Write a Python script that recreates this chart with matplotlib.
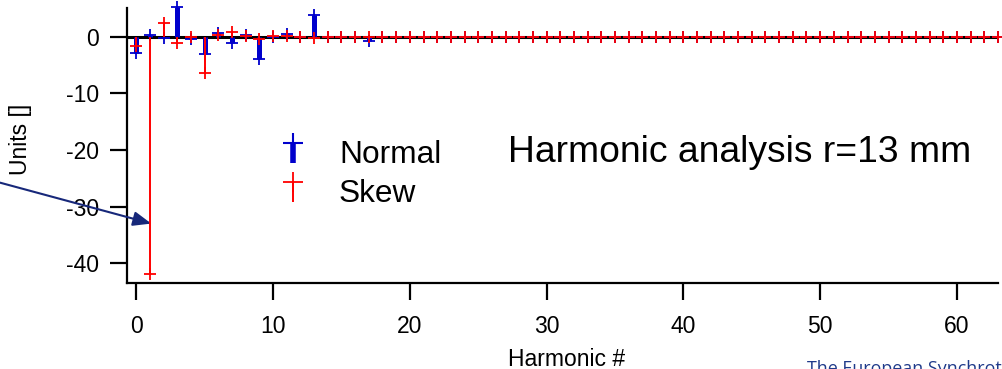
import matplotlib

matplotlib.use('Agg')
import matplotlib.pyplot as plt
import numpy as np
from matplotlib.legend_handler import HandlerBase
from matplotlib.lines import Line2D

plt.rcParams['font.family'] = ['Liberation Sans', 'DejaVu Sans']
plt.rcParams['axes.unicode_minus'] = False

# harmonic multipole content at r = 13 mm, in units
harmonics = np.arange(64)
normal = [
    -2.9, 0.35, -0.25, 5.35, -0.4, -3.0, 0.6, -1.0, 0.4, -3.9,
    0.0, 0.5, 0.0, 3.9, 0.0, 0.0, 0.0, -0.7, 0.0, 0.0,
    0.0, 0.0, 0.0, 0.0, 0.0, 0.0, 0.0, 0.0, 0.0, 0.0,
    0.0, 0.0, 0.0, 0.0, 0.0, 0.0, 0.0, 0.0, 0.0, 0.0,
    0.0, 0.0, 0.0, 0.0, 0.0, 0.0, 0.0, 0.0, 0.0, 0.0,
    0.0, 0.0, 0.0, 0.0, 0.0, 0.0, 0.0, 0.0, 0.0, 0.0,
    0.0, 0.0, 0.0, 0.0,
]
skew = [
    -1.7, -41.9, 2.5, -1.0, -0.1, -6.3, 0.3, 0.8, 0.2, -0.4,
    0.2, 0.2, 0.0, -0.25, 0.0, -0.1, 0.0, 0.0, 0.0, 0.0,
    0.0, 0.0, 0.0, 0.0, 0.0, 0.0, 0.0, 0.0, 0.0, 0.0,
    0.0, 0.0, 0.0, 0.0, 0.0, 0.0, 0.0, 0.0, 0.0, 0.0,
    0.0, 0.0, 0.0, 0.0, 0.0, 0.0, 0.0, 0.0, 0.0, 0.0,
    0.0, 0.0, 0.0, 0.0, 0.0, 0.0, 0.0, 0.0, 0.0, 0.0,
    0.0, 0.0, 0.0, 0.0,
]
xticks = [0, 10, 20, 30, 40, 50, 60]
yticks = [0, -10, -20, -30, -40]

BLUE = '#0000cc'
RED = '#ff0000'
NAVY = '#17287a'


class StemHandler(HandlerBase):
    # legend glyph: bar hanging below a '+' marker
    def create_artists(self, legend, orig_handle, xdescent, ydescent,
                       width, height, fontsize, trans):
        cx = width / 2 - xdescent
        top = 0.9 * height - ydescent
        col = orig_handle.get_color()
        bar = Line2D([cx, cx], [-ydescent, top], color=col,
                     lw=orig_handle.get_linewidth(), solid_capstyle='butt',
                     transform=trans)
        tip = Line2D([cx], [top], marker='+', markersize=fontsize * 0.63,
                     mew=orig_handle.get_markeredgewidth(), color=col,
                     linestyle='none', transform=trans)
        return [bar, tip]


fig = plt.figure(figsize=(10.02, 3.69), dpi=100)
ax = fig.add_axes([0.1267, 0.2331, 0.8693, 0.7452])

ax.axhline(0, color='black', lw=2.2, zorder=1)
ax.vlines(harmonics, 0, normal, color=BLUE, lw=3.6, zorder=2, clip_on=False)
ax.plot(harmonics, normal, '+', color=BLUE, ms=8, mew=1.3, zorder=3, clip_on=False)
ax.vlines(harmonics, 0, skew, color=RED, lw=1.4, zorder=4, clip_on=False)
ax.plot(harmonics, skew, '+', color=RED, ms=8, mew=1.3, zorder=5, clip_on=False)

ax.set_xlim(-0.68, 63.0)
ax.set_ylim(-43.5, 5.1)
ax.set_xticks(xticks)
ax.set_yticks(yticks)
for side in ('top', 'right'):
    ax.spines[side].set_visible(False)
for side in ('left', 'bottom'):
    ax.spines[side].set_linewidth(1.6)
ax.tick_params(axis='both', length=12.2, width=1.6, labelsize=16.5)
ax.tick_params(axis='y', pad=8)
ax.tick_params(axis='x', pad=11)

ax.set_xlabel('Harmonic #', fontsize=16.5, va='top')
ax.xaxis.set_label_coords(0.505, -0.236)
ax.set_ylabel('Units []', fontsize=16.5)
ax.yaxis.set_label_coords(-0.109, 0.524)

handles = [Line2D([], [], color=BLUE, lw=4, mew=1.5),
           Line2D([], [], color=RED, lw=1.4, mew=1.3)]
ax.legend(handles, ['Normal', 'Skew'], handler_map={Line2D: StemHandler()},
          loc='upper left', bbox_to_anchor=(0.277, 0.62),
          bbox_transform=fig.transFigure, frameon=False, borderpad=0,
          borderaxespad=0, handlelength=1.0, handletextpad=0.94,
          labelspacing=0.27, fontsize=22.8)

ax.text(0.4374, 0.439, 'Harmonic analysis r=13 mm', transform=ax.transAxes,
        fontsize=26.8, va='baseline', ha='left')

# arrow pointing at the large skew dipole term
ax.annotate('', xy=(1.1, -33), xycoords='data',
            xytext=(0.0, 0.505), textcoords='figure fraction',
            arrowprops=dict(arrowstyle='-|>,head_length=0.55,head_width=0.22',
                            mutation_scale=20, color=NAVY, lw=1.5, shrinkA=0,
                            shrinkB=0),
            annotation_clip=False)

# footer runs off the bottom-right corner of the page
fig.text(0.8054, -0.013, 'The European Synchrotron', color='#1f3a8a',
         fontsize=12.9, family=['Open Sans', 'DejaVu Sans'], va='baseline')

fig.savefig('out.png', dpi=100)
